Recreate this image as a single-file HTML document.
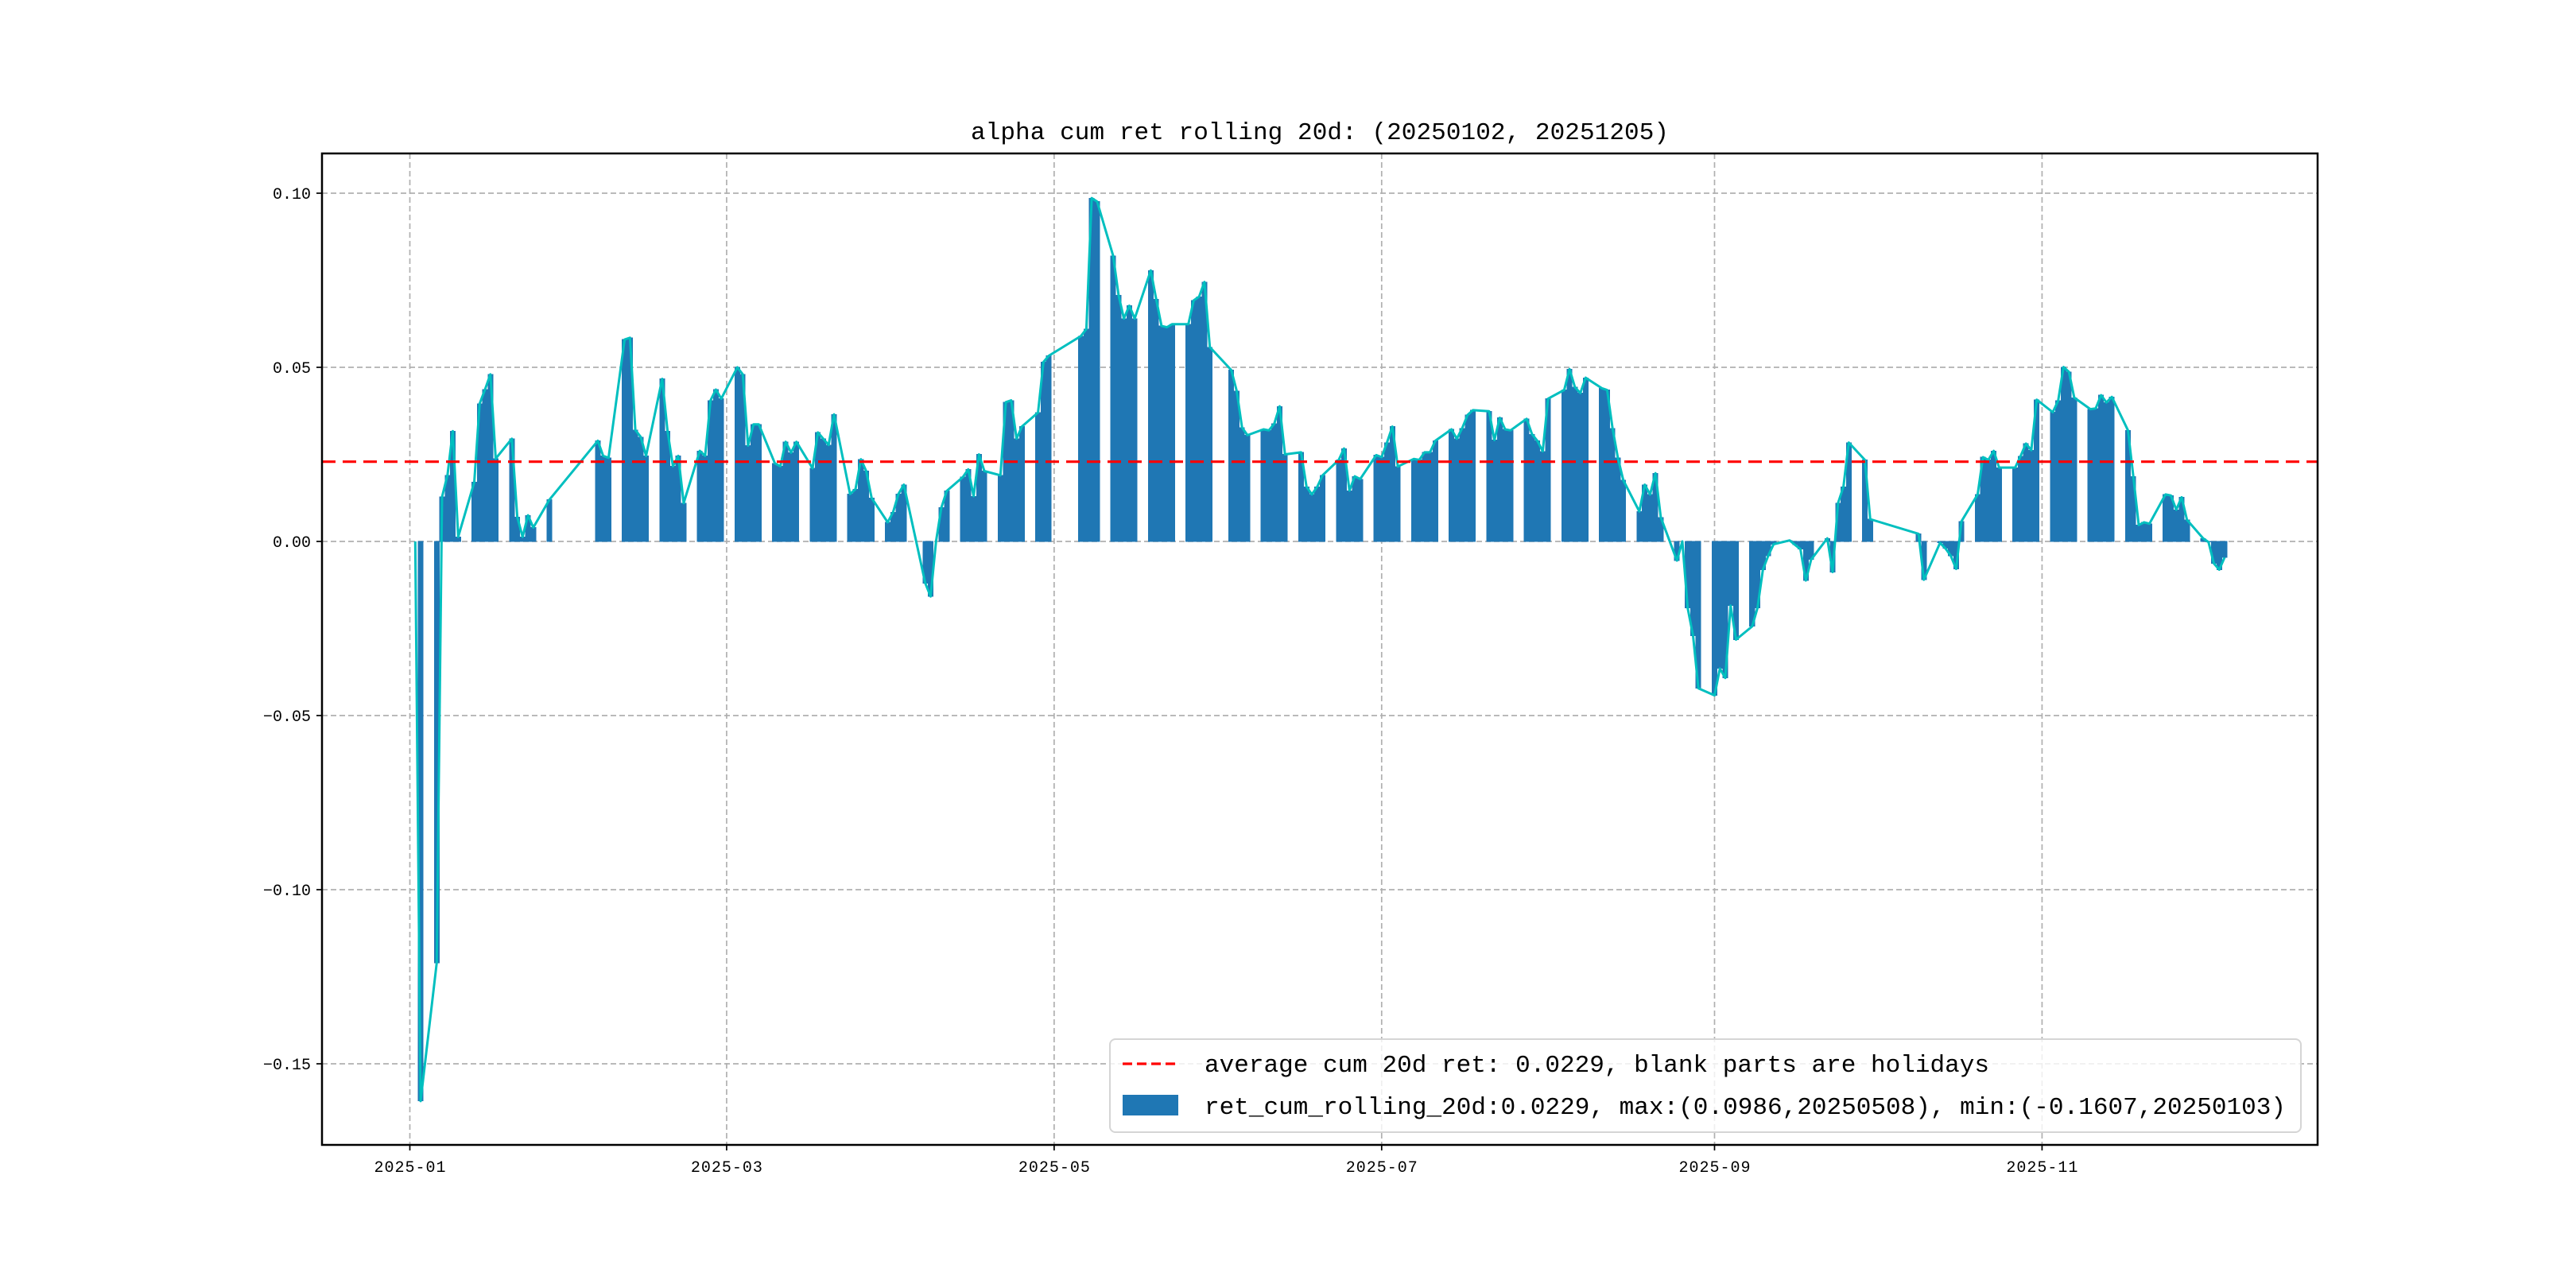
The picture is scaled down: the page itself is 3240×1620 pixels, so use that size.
<!DOCTYPE html>
<html><head><meta charset="utf-8"><style>
html,body{margin:0;padding:0;background:#fff;}
svg{display:block;}
</style></head><body>
<svg id="chart" width="3240" height="1620" viewBox="0 0 3240 1620" xmlns="http://www.w3.org/2000/svg">
<rect x="0" y="0" width="3240" height="1620" fill="#fff"/>
<g id="grid"></g>
<g id="bars" shape-rendering="crispEdges"></g>
<path id="line" fill="none" stroke="#00bfbf" stroke-width="3" stroke-linejoin="round"/>
<line id="avgline" stroke="#ff0000" stroke-width="3.2" stroke-dasharray="17,9"/>
<rect x="405" y="193" width="2510" height="1247" fill="none" stroke="#000" stroke-width="2.5"/>
<g id="ticks" font-family="'Liberation Mono', monospace" font-size="20" fill="#000"></g>
<text x="1660" y="175" text-anchor="middle" font-family="'Liberation Mono', monospace" font-size="31" textLength="878">alpha cum ret rolling 20d: (20250102, 20251205)</text>
<g>
<rect x="1396" y="1307" width="1498" height="117" rx="7" fill="#fff" fill-opacity="0.8" stroke="#d5d5d5" stroke-width="2"/>
<line x1="1412" y1="1338" x2="1482" y2="1338" stroke="#ff0000" stroke-width="3.2" stroke-dasharray="12,6"/>
<text x="1515" y="1348" font-family="'Liberation Mono', monospace" font-size="31" textLength="987">average cum 20d ret: 0.0229, blank parts are holidays</text>
<rect x="1412" y="1377" width="70" height="26" fill="#1f77b4"/>
<text x="1515" y="1401" font-family="'Liberation Mono', monospace" font-size="31" textLength="1360">ret_cum_rolling_20d:0.0229, max:(0.0986,20250508), min:(-0.1607,20250103)</text>
</g>
</svg>
<script>
const dates = ["01-02","01-03","01-06","01-07","01-08","01-09","01-10","01-13","01-14","01-15","01-16","01-17","01-20","01-21","01-22","01-23","01-24","01-27",
"02-05","02-06","02-07","02-10","02-11","02-12","02-13","02-14","02-17","02-18","02-19","02-20","02-21","02-24","02-25","02-26","02-27","02-28",
"03-03","03-04","03-05","03-06","03-07","03-10","03-11","03-12","03-13","03-14","03-17","03-18","03-19","03-20","03-21","03-24","03-25","03-26","03-27","03-28","03-31",
"04-01","04-02","04-03","04-07","04-08","04-09","04-10","04-11","04-14","04-15","04-16","04-17","04-18","04-21","04-22","04-23","04-24","04-25","04-28","04-29","04-30",
"05-06","05-07","05-08","05-09","05-12","05-13","05-14","05-15","05-16","05-19","05-20","05-21","05-22","05-23","05-26","05-27","05-28","05-29","05-30",
"06-03","06-04","06-05","06-06","06-09","06-10","06-11","06-12","06-13","06-16","06-17","06-18","06-19","06-20","06-23","06-24","06-25","06-26","06-27","06-30",
"07-01","07-02","07-03","07-04","07-07","07-08","07-09","07-10","07-11","07-14","07-15","07-16","07-17","07-18","07-21","07-22","07-23","07-24","07-25","07-28","07-29","07-30","07-31",
"08-01","08-04","08-05","08-06","08-07","08-08","08-11","08-12","08-13","08-14","08-15","08-18","08-19","08-20","08-21","08-22","08-25","08-26","08-27","08-28","08-29",
"09-01","09-02","09-03","09-04","09-05","09-08","09-09","09-10","09-11","09-12","09-15","09-16","09-17","09-18","09-19","09-22","09-23","09-24","09-25","09-26","09-29","09-30",
"10-09","10-10","10-13","10-14","10-15","10-16","10-17","10-20","10-21","10-22","10-23","10-24","10-27","10-28","10-29","10-30","10-31",
"11-03","11-04","11-05","11-06","11-07","11-10","11-11","11-12","11-13","11-14","11-17","11-18","11-19","11-20","11-21","11-24","11-25","11-26","11-27","11-28",
"12-01","12-02","12-03","12-04","12-05"];
const values = [0,-0.1607,-0.121,0.0128,0.019,0.0317,0.0013,0.017,0.0396,0.0436,0.048,0.0238,0.0295,0.007,0.0013,0.0075,0.004,0.012,
0.0289,0.0246,0.024,0.058,0.0585,0.032,0.030,0.0246,0.0467,0.0317,0.0216,0.0246,0.011,0.026,0.0246,0.0405,0.0436,0.041,
0.05,0.048,0.0275,0.0336,0.0336,0.0224,0.0216,0.0286,0.0255,0.0286,0.021,0.0313,0.0295,0.0277,0.0365,0.0136,0.015,0.0236,0.0202,0.0125,0.0055,
0.0084,0.0136,0.0163,-0.012,-0.0158,0.0,0.0097,0.0145,0.0185,0.0207,0.013,0.025,0.0202,0.019,0.040,0.0405,0.0295,0.033,0.037,0.0515,0.0533,
0.059,0.061,0.0986,0.0976,0.082,0.0707,0.064,0.0677,0.064,0.0778,0.0696,0.0619,0.0615,0.0624,0.0624,0.0692,0.0703,0.0745,0.0558,
0.0492,0.0432,0.0327,0.0305,0.0322,0.0319,0.0338,0.0388,0.025,0.0256,0.0157,0.0135,0.0157,0.019,0.0234,0.0267,0.0146,0.0187,0.0179,0.0248,
0.0242,0.0284,0.033,0.0215,0.0237,0.0234,0.0256,0.0256,0.0289,0.0322,0.0295,0.0325,0.0363,0.0377,0.0374,0.0291,0.0355,0.0322,0.0319,0.0352,0.0308,0.0289,0.0259,
0.041,0.0435,0.0495,0.0443,0.0426,0.047,0.044,0.0435,0.0325,0.024,0.0176,0.0086,0.0163,0.0135,0.0196,0.0069,-0.0055,0.0,-0.0191,-0.0271,-0.0422,
-0.0442,-0.0365,-0.0392,-0.0184,-0.0282,-0.0244,-0.0191,-0.0081,-0.0041,-0.0008,0.0003,-0.001,-0.0022,-0.0112,-0.0052,0.0009,-0.0088,0.011,0.0157,0.0284,0.0234,0.0064,
0.0022,-0.011,-0.0004,-0.002,-0.0041,-0.0079,0.0058,0.0135,0.0242,0.0234,0.026,0.0212,0.0212,0.0245,0.0281,0.0262,0.0407,
0.0371,0.0404,0.0501,0.0487,0.0413,0.038,0.0382,0.042,0.0399,0.0415,0.0319,0.0187,0.0047,0.0055,0.0051,0.0135,0.0132,0.0091,0.0127,0.0062,
0.0009,-0.0002,-0.0063,-0.0081,-0.0046];
const avgValue = 0.0229;
const yTicks = [0.10,0.05,0.00,-0.05,-0.10,-0.15];
const yTickLabels = ["0.10","0.05","0.00","\u22120.05","\u22120.10","\u22120.15"];
const xTicks = ["2025-01-01","2025-03-01","2025-05-01","2025-07-01","2025-09-01","2025-11-01"];
const xTickLabels = ["2025-01","2025-03","2025-05","2025-07","2025-09","2025-11"];

const NS="http://www.w3.org/2000/svg";
const L=405,R=2915,T=193,B=1440;
const y0=681, pxPerUnit=4380;
const x0=515.5, pxPerDay=6.753;
function dayOf(s){const p=s.split("-").map(Number);return (Date.UTC(p[0],p[1]-1,p[2])-Date.UTC(2025,0,1))/86400000;}
function xs(s){return x0+dayOf(s)*pxPerDay;}
function ys(v){return y0-v*pxPerUnit;}
function mk(tag,attrs,parent){const e=document.createElementNS(NS,tag);for(const k in attrs)e.setAttribute(k,attrs[k]);parent.appendChild(e);return e;}

const grid=document.getElementById("grid"), ticks=document.getElementById("ticks"), bars=document.getElementById("bars");
yTicks.forEach((v,i)=>{
  const y=ys(v);
  const g=mk("line",{x1:L,x2:R,y1:y,y2:y,stroke:"#b0b0b0","stroke-width":1.7,"stroke-dasharray":"7,4"},grid);
  
  
  const t=mk("line",{x1:L-7,x2:L,y1:y,y2:y,stroke:"#000","stroke-width":1.7},ticks);
  
  
  const tx=mk("text",{x:L-14,y:y+7,"text-anchor":"end"},ticks);
  tx.textContent=yTickLabels[i];
  
  
});
xTicks.forEach((d,i)=>{
  const x=xs(d);
  const g=mk("line",{x1:x,x2:x,y1:T,y2:B,stroke:"#b0b0b0","stroke-width":1.7,"stroke-dasharray":"7,4"},grid);
  
  
  const t=mk("line",{x1:x,x2:x,y1:B,y2:B+7,stroke:"#000","stroke-width":1.7},ticks);
  
  
  const tx=mk("text",{x:x,y:B+34,"text-anchor":"middle",textLength:90},ticks);
  tx.textContent=xTickLabels[i];
  
  
});
const bw=0.95*pxPerDay;
let d="";
dates.forEach((md,i)=>{
  const s="2025-"+md, x=xs(s), v=values[i], y=ys(v);
  const r=mk("rect",{x:x-bw/2,y:Math.min(y,y0),width:bw,height:Math.abs(y-y0),fill:"#1f77b4",stroke:"#1f77b4","stroke-width":0.6},bars);
  
  
  d+=(i?"L":"M")+x.toFixed(1)+","+y.toFixed(1);
});
document.getElementById("line").setAttribute("d",d);
const al=document.getElementById("avgline");
al.setAttribute("x1",L);al.setAttribute("x2",R);
al.setAttribute("y1",ys(avgValue));al.setAttribute("y2",ys(avgValue));
</script>
</body></html>
